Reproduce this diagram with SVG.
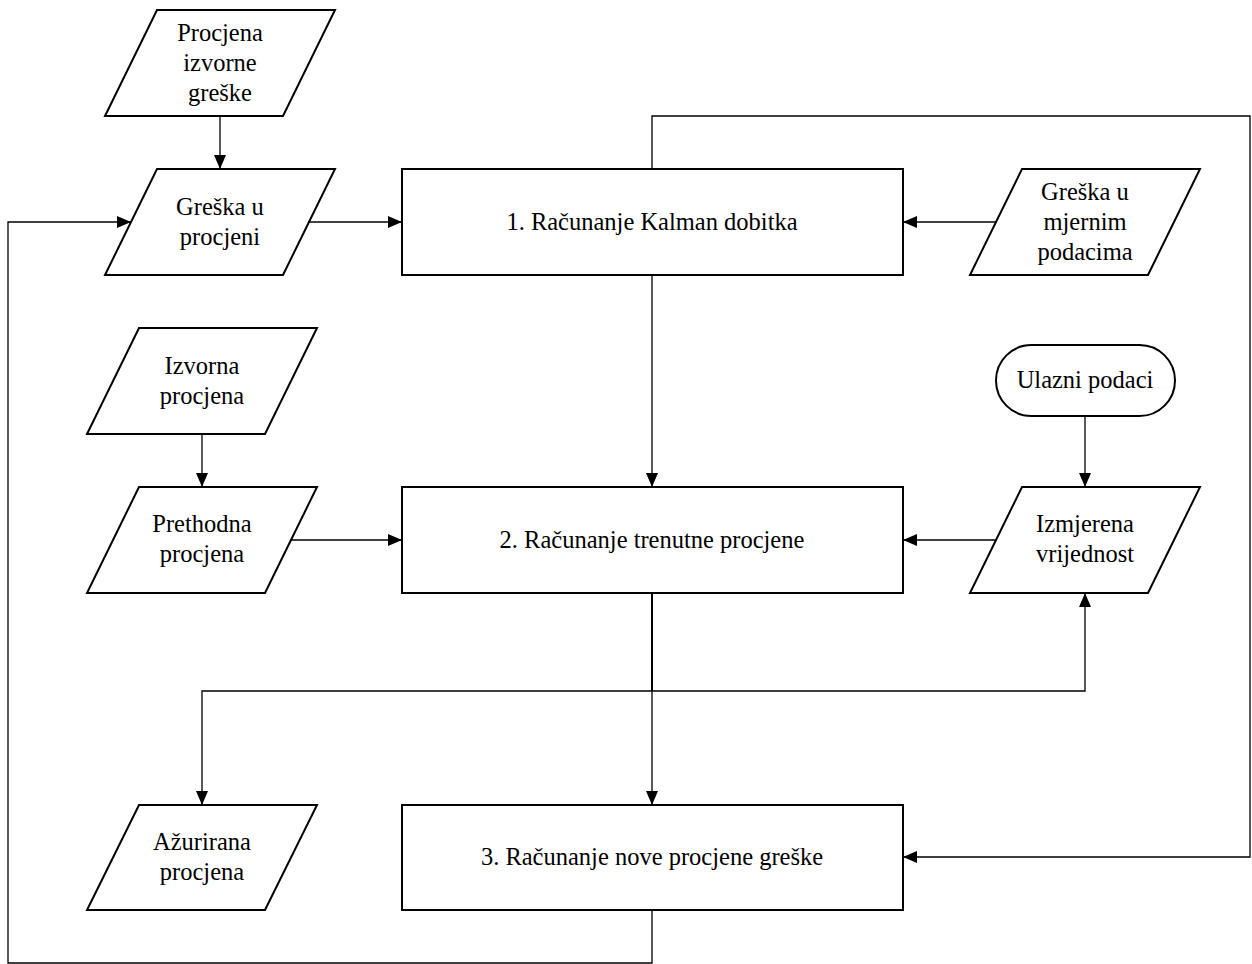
<svg xmlns="http://www.w3.org/2000/svg" width="1252" height="964" viewBox="0 0 1252 964">
<style>
.s{fill:#fff;stroke:#000;stroke-width:2}
.t{font-family:"Liberation Serif","Times New Roman",serif;font-size:24.5px;fill:#000;text-anchor:middle;dominant-baseline:central}
.c{fill:none;stroke:#000;stroke-width:1.3}
</style>
<defs>
<marker id="ar" markerUnits="userSpaceOnUse" markerWidth="14" markerHeight="12" refX="14" refY="6" orient="auto">
<path d="M0,0 L14,6 L0,12 z" fill="#000"/>
</marker>
</defs>
<rect width="1252" height="964" fill="#fff"/>
<g id="connectors">
<path class="c" d="M220,116 V169" marker-end="url(#ar)"/>
<path class="c" d="M309,222 H402" marker-end="url(#ar)"/>
<path class="c" d="M996,222 H903" marker-end="url(#ar)"/>
<path class="c" d="M652,275 V487" marker-end="url(#ar)"/>
<path class="c" d="M652,169 V116 H1250 V857 H903" marker-end="url(#ar)"/>
<path class="c" d="M202,434 V487" marker-end="url(#ar)"/>
<path class="c" d="M291,540 H402" marker-end="url(#ar)"/>
<path class="c" d="M1085,416 V487" marker-end="url(#ar)"/>
<path class="c" d="M996,540 H903" marker-end="url(#ar)"/>
<path class="c" d="M652,593 V805" marker-end="url(#ar)"/>
<path class="c" d="M652,593 V691" style="stroke-width:2"/>
<path class="c" d="M652,691 H202 V805" marker-end="url(#ar)"/>
<path class="c" d="M652,691 H1085 V593" marker-end="url(#ar)"/>
<path class="c" d="M652,910 V963 H8 V222 H131" marker-end="url(#ar)"/>
</g>
<g id="n1">
<polygon class="s" points="157,10 335,10 283,116 105,116"/>
<text class="t" x="220" y="32">Procjena</text>
<text class="t" x="220" y="62">izvorne</text>
<text class="t" x="220" y="92">greške</text>
</g>
<g id="n2">
<polygon class="s" points="157,169 335,169 283,275 105,275"/>
<text class="t" x="220" y="206">Greška u</text>
<text class="t" x="220" y="236">procjeni</text>
</g>
<g id="n3">
<polygon class="s" points="139,328 317,328 265,434 87,434"/>
<text class="t" x="202" y="365">Izvorna</text>
<text class="t" x="202" y="395">procjena</text>
</g>
<g id="n4">
<polygon class="s" points="139,487 317,487 265,593 87,593"/>
<text class="t" x="202" y="523">Prethodna</text>
<text class="t" x="202" y="553">procjena</text>
</g>
<g id="n5">
<polygon class="s" points="139,805 317,805 265,910 87,910"/>
<text class="t" x="202" y="841">Ažurirana</text>
<text class="t" x="202" y="871">procjena</text>
</g>
<g id="n6">
<polygon class="s" points="1022,169 1200,169 1148,275 970,275"/>
<text class="t" x="1085" y="191">Greška u</text>
<text class="t" x="1085" y="221">mjernim</text>
<text class="t" x="1085" y="251">podacima</text>
</g>
<g id="n7">
<rect class="s" x="996" y="345" width="179" height="71" rx="35.5"/>
<text class="t" x="1085" y="379">Ulazni podaci</text>
</g>
<g id="n8">
<polygon class="s" points="1022,487 1200,487 1148,593 970,593"/>
<text class="t" x="1085" y="523">Izmjerena</text>
<text class="t" x="1085" y="553">vrijednost</text>
</g>
<g id="b1">
<rect class="s" x="402" y="169" width="501" height="106"/>
<text class="t" x="652" y="221">1. Računanje Kalman dobitka</text>
</g>
<g id="b2">
<rect class="s" x="402" y="487" width="501" height="106"/>
<text class="t" x="652" y="539">2. Računanje trenutne procjene</text>
</g>
<g id="b3">
<rect class="s" x="402" y="805" width="501" height="105"/>
<text class="t" x="652" y="856">3. Računanje nove procjene greške</text>
</g>
</svg>
